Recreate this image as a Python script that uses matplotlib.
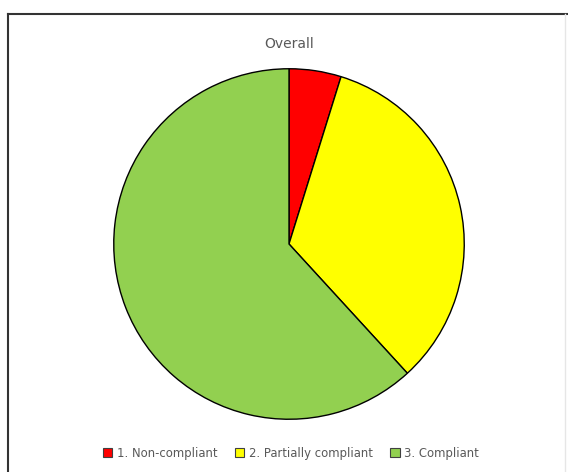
import matplotlib.pyplot as plt
from matplotlib.lines import Line2D
from matplotlib.patches import Patch

labels = ["1. Non-compliant", "2. Partially compliant", "3. Compliant"]
values = [4.8, 33.4, 61.8]
colors = ["#ff0000", "#ffff00", "#92d050"]

fig = plt.figure(figsize=(5.68, 4.72), dpi=100)

# chart frame (left and top border like the source screenshot)
fig.add_artist(Line2D([8 / 568, 8 / 568], [0, 1 - 14 / 472], color="#333333", lw=1.5))
fig.add_artist(Line2D([8 / 568, 1], [1 - 14 / 472, 1 - 14 / 472], color="#333333", lw=1.5))
fig.add_artist(Line2D([565 / 568, 565 / 568], [0, 1 - 14 / 472], color="#e6e6e6", lw=1))

ax = fig.add_axes([(289 - 177) / 568, (472 - 421) / 472, 354 / 568, 354 / 472])
ax.pie(values, colors=colors, startangle=90, counterclock=False, radius=1,
       wedgeprops=dict(edgecolor="black", linewidth=1))
ax.set_xlim(-1.01, 1.01)
ax.set_ylim(-1.01, 1.01)
ax.set_aspect("equal")
ax.axis("off")

fig.text(289 / 568, 1 - 44 / 472, "Overall", ha="center", va="center",
         fontsize=10, color="#595959")

handles = [Patch(facecolor=c, edgecolor="#404040", linewidth=0.8) for c in colors]
fig.legend(handles, labels, loc="center", bbox_to_anchor=(291 / 568, 1 - 453 / 472),
           ncol=3, frameon=False, fontsize=8.4, labelcolor="#595959",
           handlelength=0.8, handleheight=0.8, handletextpad=0.4, columnspacing=1.5)

fig.savefig("out.png", dpi=100, facecolor="white")
